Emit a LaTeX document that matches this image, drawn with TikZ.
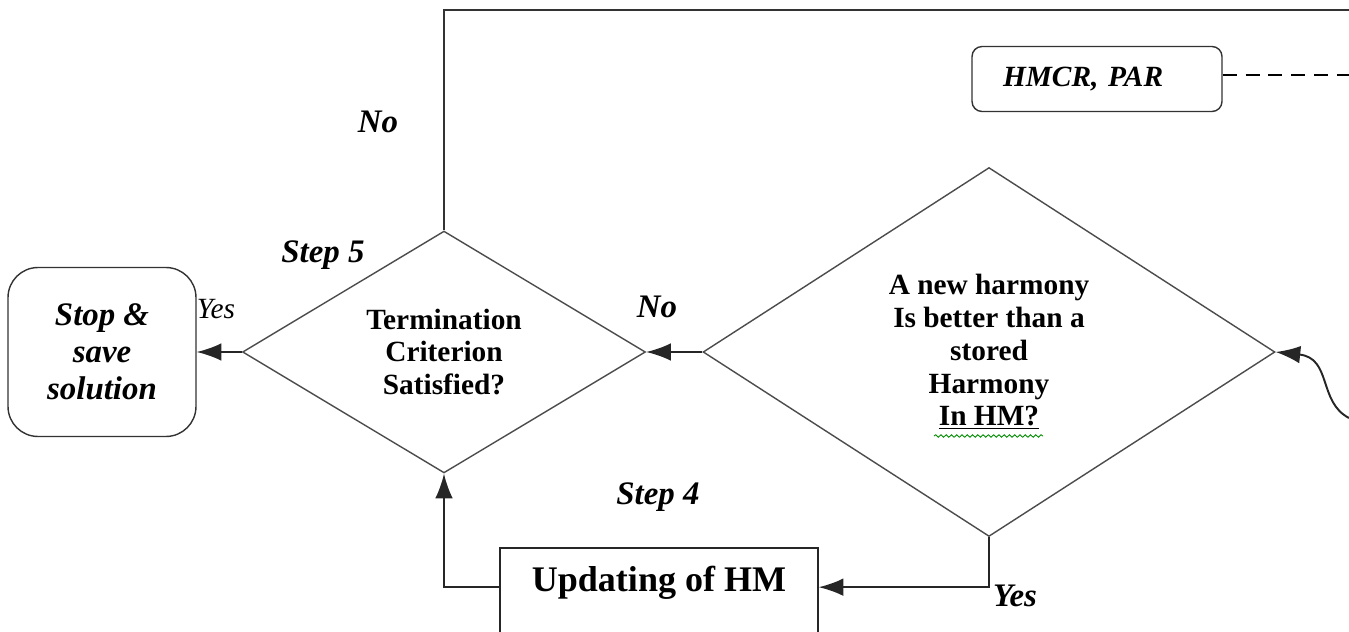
\documentclass[tikz,border=0pt]{standalone}
\usepackage{fontspec}
\setmainfont{Liberation Serif}
\usepackage{tikz}
\usetikzlibrary{arrows.meta,positioning,shapes.geometric,decorations.pathmorphing}

\begin{document}
\begin{tikzpicture}[x=0.02cm, y=-0.02cm, >={Latex[length=14pt,width=10pt]},
    rombo/.style={diamond, draw=black!70, line width=0.8pt, inner sep=0pt, align=center, font=\fontsize{16.7}{18.7}\selectfont\bfseries},
    freccia/.style={->, line width=1.1pt, draw=black!85},
    etich/.style={font=\fontsize{18.7}{21}\selectfont\bfseries\itshape}]
    \useasboundingbox (0,0) rectangle (1349,632);
    \clip (0,0) rectangle (1349,632);

    % Blocchi
    \node[rombo, minimum width=8.06cm, minimum height=4.8cm] (term) at (444,352) {Termination\\Criterion\\Satisfied?};
    \node[rombo, minimum width=11.44cm, minimum height=7.38cm] (better) at (989,352) {A new harmony\\Is better than a\\stored\\Harmony\\\underline{In HM?}};
    \node[draw=black!80, line width=0.8pt, rounded corners=0.6cm, minimum width=3.76cm, minimum height=3.38cm, align=center,
          font=\fontsize{18.7}{21}\selectfont\bfseries\itshape] (stop) at (102,352) {Stop \&\\save\\solution};
    \node[draw=black!80, line width=0.8pt, rounded corners=0.2cm, text width=3.76cm, inner xsep=0.62cm, minimum height=1.3cm, align=left,
          font=\fontsize{16.7}{18.7}\selectfont\bfseries\itshape] (hmcr) at (1097,79) {HMCR, PAR};
    \node[draw=black!85, line width=0.8pt, minimum width=6.36cm, minimum height=1.92cm] (upd) at (659,596) {};
    \node[font=\fontsize{20.5}{22}\selectfont\bfseries] (updtext) at (659,583) {Updating of HM};
    \coordinate (topedge) at (1349,10);
    \coordinate (dashend) at (1349,75);
    \coordinate (wavein) at (1349,418);

    % Collegamenti
    \draw[freccia] (better.west) -- (term.east);
    \draw[freccia] (term.west) -- (stop.east);
    \draw[freccia] (better.south) -- ++(0,50) coordinate (yesc) -- (upd.east |- yesc);
    \draw[freccia] (upd.west |- yesc) -| (term.south);
    \draw[line width=1.1pt, black!80] (term.north) -- (term.north |- topedge) -- (topedge);
    \draw[line width=1pt, dashed, dash pattern=on 8pt off 5pt] (hmcr.east |- dashend) -- (dashend);
    \draw[freccia] (wavein) .. controls (1318,402) and (1332,358) .. (better.east);
    \draw[green!55!black, line width=0.5pt, decorate, decoration={snake, amplitude=0.7pt, segment length=3pt}] (934,436) -- (1043,436);

    % Etichette
    \node[etich] (no1) at (378,122) {No};
    \node[etich] (step5) at (323,255) {Step 5};
    \node[font=\fontsize{16.7}{18.7}\selectfont\itshape] (yes1) at (216,309) {Yes};
    \node[etich] (no2) at (657,307) {No};
    \node[etich] (step4) at (658,497) {Step 4};
    \node[etich] (yes2) at (1015,596) {Yes};
\end{tikzpicture}
\end{document}
